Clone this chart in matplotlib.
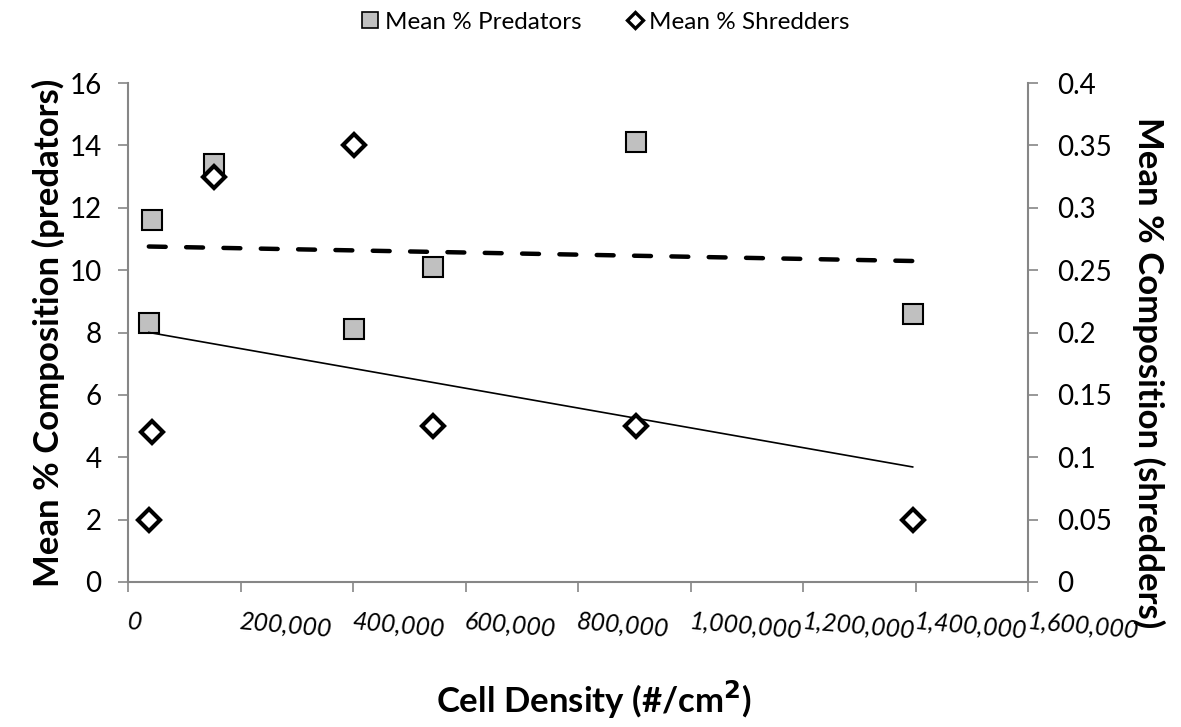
import numpy as np
import matplotlib
matplotlib.use("Agg")
import matplotlib.pyplot as plt
from matplotlib.lines import Line2D
from matplotlib.ticker import FuncFormatter

plt.rcParams['font.family'] = ['Lato', 'DejaVu Sans']

# cell density (#/cm2) per site
density = [37000, 42700, 153000, 402000, 542000, 903000, 1395000]
# mean % predators (left axis)
predators = [8.3, 11.6, 13.4, 8.1, 10.1, 14.1, 8.6]
# mean % shredders (right axis)
shredders = [0.05, 0.12, 0.325, 0.35, 0.125, 0.125, 0.05]

xticks = [0, 200000, 400000, 600000, 800000, 1000000, 1200000, 1400000, 1600000]
left_ticks = [0, 2, 4, 6, 8, 10, 12, 14, 16]
right_ticks = [0, 0.05, 0.1, 0.15, 0.2, 0.25, 0.3, 0.35, 0.4]

grey = '#868686'

fig = plt.figure(figsize=(11.81, 7.27), dpi=100)
ax = fig.add_axes([128/1181, 1 - 582/727, 900/1181, 499/727])
ax2 = ax.twinx()

x = np.array(density, dtype=float)

# linear trend lines (Excel style)
p1 = np.polyfit(x, predators, 1)
p2 = np.polyfit(x, shredders, 1)
xt = np.array([x.min(), x.max()])

ax.plot(xt, np.polyval(p1, xt), color='black', lw=3.2, dash_capstyle='round',
        dashes=(3.8, 4.6), zorder=2)
ax2.plot(xt, np.polyval(p2, xt), color='black', lw=1.2, zorder=2)

ax.plot(x, predators, linestyle='none', marker='s', ms=15, mfc='#c0c0c0',
        mec='black', mew=1.5, zorder=3)
ax2.plot(x, shredders, linestyle='none', marker='D', ms=11, mfc='white',
         mec='black', mew=3, zorder=3)

ax.set_xlim(0, 1600000)
ax.set_ylim(0, 16)
ax2.set_ylim(0, 0.4)
ax.set_xticks(xticks)
ax.set_yticks(left_ticks)
ax2.set_yticks(right_ticks)
ax.xaxis.set_major_formatter(FuncFormatter(lambda v, p: f"{int(v):,}"))
ax.set_yticklabels([str(t) for t in left_ticks])
ax2.set_yticklabels(['0', '0.05', '0.1', '0.15', '0.2', '0.25', '0.3', '0.35', '0.4'])

for a in (ax, ax2):
    for s in a.spines.values():
        s.set_color(grey)
        s.set_linewidth(1.5)
    a.spines['top'].set_visible(False)
ax.spines['right'].set_visible(False)
ax2.spines['left'].set_visible(False)
ax2.spines['bottom'].set_visible(False)

ax.tick_params(axis='y', direction='out', length=7, width=1.2, color=grey,
               labelsize=20, pad=12)
ax2.tick_params(axis='y', direction='out', length=7, width=1.2, color=grey,
                labelsize=20, pad=14)
ax.tick_params(axis='x', direction='out', length=7, width=1.2, color=grey,
               labelsize=18, pad=13)
for lbl in ax.get_xticklabels():
    lbl.set_rotation(-5)
    lbl.set_ha('left')
    lbl.set_va('top')
    lbl.set_rotation_mode('anchor')
    lbl.set_fontstyle('italic')

ax.set_ylabel('Mean % Composition (predators)', fontsize=25, fontweight='bold', labelpad=3)
ax2.set_ylabel('Mean % Composition (shredders)', fontsize=25, fontweight='bold',
               rotation=-90, labelpad=38)
ax2.yaxis.label.set_y(0.42)
fig.text(594/1181, 1 - 700/727, 'Cell Density (#/cm$^{\\mathbf{2}}$)', fontsize=25,
         fontweight='bold', ha='center', va='center')

handles = [
    Line2D([], [], linestyle='none', marker='s', ms=11, mfc='#c0c0c0', mec='black', mew=1.2),
    Line2D([], [], linestyle='none', marker='D', ms=8, mfc='white', mec='black', mew=2.4),
]
fig.legend(handles, ['Mean % Predators', 'Mean % Shredders'], loc='center',
           bbox_to_anchor=(605/1181, 1 - 22/727), ncol=2, frameon=False, fontsize=17.5,
           handlelength=0.8, handletextpad=0.2, columnspacing=1.8)

fig.savefig('out.png', dpi=100)
